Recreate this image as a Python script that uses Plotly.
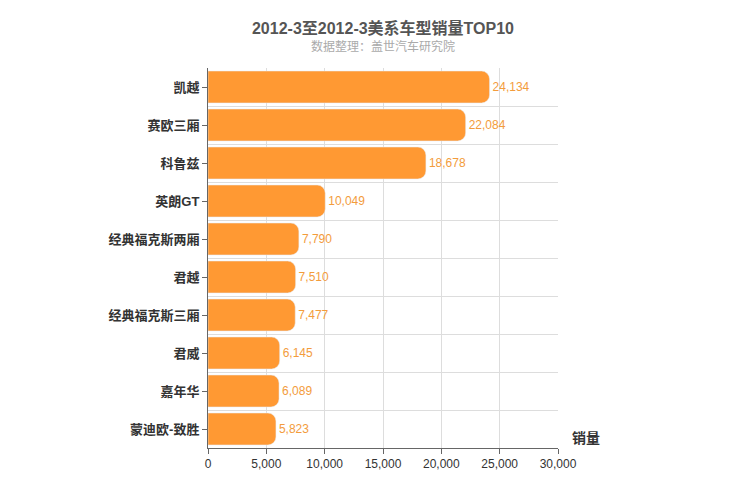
import plotly.graph_objects as go

models = ['凯越', '赛欧三厢', '科鲁兹', '英朗GT', '经典福克斯两厢', '君越',
          '经典福克斯三厢', '君威', '嘉年华', '蒙迪欧-致胜']
sales = [24134, 22084, 18678, 10049, 7790, 7510, 7477, 6145, 6089, 5823]
x_ticks = [0, 5000, 10000, 15000, 20000, 25000, 30000]

pos = list(range(len(models)))[::-1]

fig = go.Figure(go.Bar(
    x=sales, y=pos, orientation='h',
    marker=dict(color='#FF9933', cornerradius=8),
    width=0.84,
    text=[f'{v:,}' for v in sales], textposition='outside',
    textfont=dict(color='#F39C3C', size=12),
    cliponaxis=False,
    hoverinfo='skip'
))

fig.update_layout(
    width=750, height=500,
    margin=dict(l=200, r=200, t=60, b=60, autoexpand=False),
    plot_bgcolor='white', paper_bgcolor='white',
    font=dict(family='Liberation Sans, Noto Sans CJK SC, sans-serif'),
    showlegend=False,
    title=dict(text='<b>2012-3至2012-3美系车型销量TOP10</b>', x=0.5, y=0.97,
               xanchor='center', automargin=False,
               font=dict(size=16, color='#555555')),
    xaxis=dict(range=[0, 30000], tickvals=x_ticks, tickformat=',',
               automargin=False,
               showgrid=True, gridcolor='#DDDDDD', zeroline=False,
               showline=True, linecolor='#666666', ticks='outside',
               ticklen=5, tickcolor='#666666',
               tickfont=dict(size=12, color='#333333')),
    yaxis=dict(range=[-0.5, 9.5], tickvals=pos,
               ticktext=[f'<b>{m}</b>' for m in models], automargin=False,
               showgrid=False, zeroline=False, showline=True,
               linecolor='#666666', ticks='outside', ticklen=5,
               tickcolor='#666666',
               tickfont=dict(size=13, color='#333333'),
               minor=dict(tick0=0.5, dtick=1, showgrid=True,
                          gridcolor='#DDDDDD')),
    annotations=[
        dict(text='数据整理：盖世汽车研究院', x=0.5, y=1.0, xref='paper',
             yref='paper', xanchor='center', yanchor='bottom', yshift=12,
             showarrow=False, font=dict(size=12, color='#AAAAAA')),
        dict(text='<b>销量</b>', x=1.0, y=0, xref='paper', yref='paper',
             xanchor='left', yanchor='bottom', xshift=12, showarrow=False,
             font=dict(size=14, color='#333333')),
    ],
)

fig.write_html('out.html')
